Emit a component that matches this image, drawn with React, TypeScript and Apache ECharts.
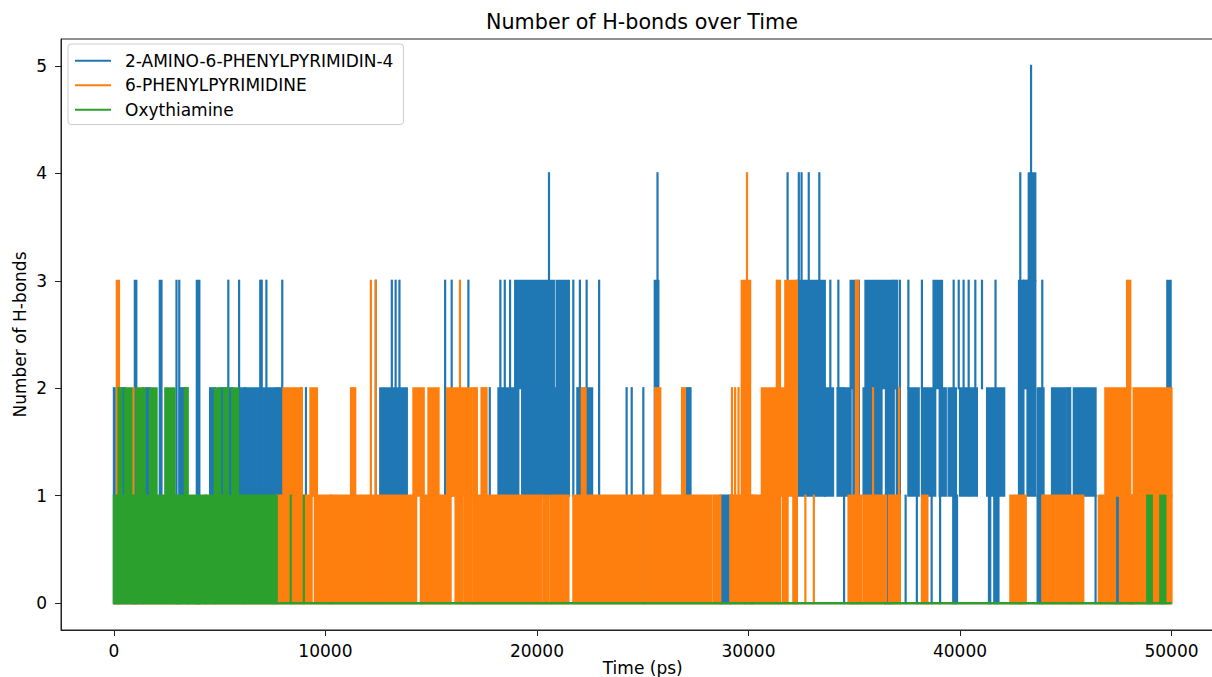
import React, { useEffect, useRef } from 'react';
import * as echarts from 'echarts';

const seriesNames = ['2-AMINO-6-PHENYLPYRIMIDIN-4', '6-PHENYLPYRIMIDINE', 'Oxythiamine'];
const timeSpan = [0, 50000];
const xTicks = [0, 10000, 20000, 30000, 40000, 50000];
const yTicks = [0, 1, 2, 3, 4, 5];

// Each entry: [time start (ps), time end (ps), low H-bond count, high H-bond count]
// marking where the trace sweeps between two levels (dense flicker or single spikes).
const aminoBands = [
  [0, 40, 0, 2], [360, 530, 1, 2], [990, 1060, 0, 3], [1510, 1700, 1, 2], [2170, 2250, 1, 3],
  [2960, 2960, 0, 3], [3090, 3090, 0, 3], [3130, 3350, 1, 2], [3480, 3480, 0, 2], [3920, 4040, 0, 3],
  [4550, 4770, 1, 2], [5020, 5210, 1, 2], [5320, 5600, 1, 2], [5410, 5410, 1, 3], [5920, 5920, 1, 3],
  [5960, 7600, 1, 2], [6200, 6200, 0, 2], [6920, 6920, 1, 3], [6990, 6990, 1, 3], [7210, 7210, 1, 3],
  [7670, 7920, 1, 2], [7960, 7960, 1, 3], [8840, 8840, 1, 2], [9080, 9080, 1, 2], [10260, 10260, 0, 1],
  [12380, 12380, 1, 3], [12590, 13850, 1, 2], [13140, 13140, 2, 3], [13320, 13320, 2, 3], [13500, 13500, 2, 3],
  [15660, 15660, 1, 3], [15970, 15970, 1, 3], [16760, 16760, 1, 3], [17770, 17770, 1, 2], [18180, 19120, 1, 2],
  [18270, 18270, 2, 3], [18480, 18480, 2, 3], [18730, 18730, 2, 3], [18970, 20800, 2, 3], [19300, 21510, 1, 2],
  [20570, 20570, 3, 4], [20930, 21510, 2, 3], [21720, 21720, 1, 3], [21910, 22050, 1, 2], [22030, 22030, 2, 3],
  [22260, 22610, 1, 2], [22350, 22350, 2, 3], [22940, 22940, 1, 3], [24240, 24240, 1, 2], [24480, 24480, 1, 2],
  [25030, 25030, 0, 2], [25570, 25740, 1, 3], [25700, 25700, 3, 4], [27080, 27260, 1, 2], [28670, 29130, 0, 1],
  [29860, 29860, 0, 1], [30170, 30170, 0, 1], [31850, 31850, 1, 4], [32290, 32630, 1, 3], [32700, 33610, 1, 3],
  [32380, 32380, 3, 4], [32510, 32510, 3, 4], [32850, 32850, 3, 4], [33350, 33350, 3, 4], [33610, 34000, 1, 2],
  [33870, 33870, 2, 3], [34210, 34420, 1, 2], [34250, 34250, 2, 3], [34520, 34520, 0, 2], [34550, 34830, 1, 2],
  [34830, 35220, 2, 3], [34900, 34900, 0, 1], [34960, 35220, 1, 2], [35440, 36290, 1, 2], [35530, 35890, 2, 3],
  [35980, 36780, 2, 3], [36460, 36770, 0, 1], [36500, 36870, 1, 2], [36850, 37030, 2, 3], [37010, 37160, 1, 2],
  [37160, 37160, 2, 3], [37430, 37430, 0, 1], [37560, 38050, 1, 2], [37560, 37560, 2, 3], [37960, 37960, 0, 1],
  [38200, 38830, 1, 2], [38200, 38200, 2, 3], [38660, 38660, 0, 1], [38750, 39150, 2, 3], [39040, 39330, 1, 2],
  [39060, 39060, 0, 1], [39460, 39810, 1, 2], [39680, 39860, 0, 1], [39700, 39700, 2, 3], [39940, 39940, 2, 3],
  [40000, 40420, 1, 2], [40170, 40170, 2, 3], [40410, 40410, 2, 3], [40490, 40800, 1, 2], [40725, 40725, 2, 3],
  [41040, 41040, 2, 3], [41280, 42090, 1, 2], [41680, 41680, 2, 3], [41370, 41430, 0, 1], [41620, 41820, 0, 1],
  [42790, 43000, 1, 3], [43000, 43190, 2, 3], [43190, 43560, 1, 3], [42850, 42850, 3, 4], [43250, 43560, 3, 4],
  [43360, 43360, 4, 5], [42790, 42850, 0, 1], [43670, 43950, 1, 2], [43670, 43860, 0, 1], [43890, 43890, 1, 3],
  [44350, 44990, 1, 2], [45070, 45210, 1, 2], [45380, 45920, 1, 2], [46010, 46410, 1, 2], [45180, 45180, 0, 1],
  [46410, 46410, 0, 1], [47330, 47560, 0, 1], [48050, 48140, 0, 1], [49800, 49960, 1, 3],
];

const phenylBands = [
  [140, 240, 0, 3], [930, 930, 0, 2], [1370, 1370, 0, 2], [4350, 4350, 0, 1], [4770, 4770, 0, 1],
  [7700, 9350, 0, 1], [9500, 14290, 0, 1], [8010, 8560, 1, 2], [8630, 8890, 1, 2], [9290, 9600, 1, 2],
  [11210, 11410, 1, 2], [12150, 12150, 0, 3], [12380, 12380, 0, 3], [14160, 14650, 1, 2], [14510, 15920, 0, 1],
  [14870, 15350, 1, 2], [15750, 16910, 1, 2], [16150, 16270, 0, 1], [16360, 16490, 0, 1], [16360, 16360, 1, 3],
  [16580, 16910, 0, 1], [16990, 20220, 0, 1], [16990, 17160, 1, 2], [17380, 17620, 1, 2], [20310, 20520, 0, 1],
  [20630, 21490, 0, 1], [21720, 24930, 0, 1], [22120, 22300, 1, 2], [25030, 28230, 0, 1], [25590, 25830, 1, 2],
  [26860, 26990, 1, 2], [28340, 28670, 0, 1], [29140, 29830, 0, 1], [29220, 29220, 1, 2], [29370, 29370, 1, 2],
  [29530, 29530, 1, 2], [29680, 30080, 1, 3], [29930, 29930, 3, 4], [29900, 30140, 0, 1], [30210, 31490, 0, 1],
  [30630, 32290, 1, 2], [31340, 31490, 2, 3], [31620, 31850, 0, 1], [31740, 32290, 2, 3], [32120, 32290, 0, 1],
  [32690, 32690, 0, 1], [33090, 33090, 0, 1], [34730, 35320, 0, 1], [35080, 35190, 0, 3], [35430, 36500, 0, 1],
  [35890, 35890, 1, 2], [36640, 37160, 0, 1], [37120, 37120, 1, 2], [38200, 38460, 0, 1],
  [42380, 43110, 0, 1], [43890, 45210, 0, 1], [45300, 45830, 0, 1], [46560, 47330, 0, 1], [47560, 48050, 0, 1],
  [48140, 50000, 0, 1], [46870, 48050, 1, 2], [47900, 48050, 2, 3], [48210, 50000, 1, 2],
];

const oxyBands = [
  [0, 3410, 0, 1], [3500, 4320, 0, 1], [4380, 4740, 0, 1], [4800, 7700, 0, 1],
  [220, 360, 1, 2], [530, 840, 1, 2], [1060, 1460, 1, 2], [1700, 2020, 1, 2], [2430, 2870, 1, 2],
  [3350, 3480, 1, 2], [4770, 5020, 1, 2], [5210, 5390, 1, 2], [5600, 5870, 1, 2],
  [8360, 8360, 0, 1], [8980, 8980, 0, 1], [48850, 49070, 0, 1], [49470, 49710, 0, 1],
];

const colors = ['#1f77b4', '#ff7f0e', '#2ca02c'];
const bandSets = [aminoBands, phenylBands, oxyBands];
const FONT = 'DejaVu Sans';
const LW = 2.2;

function bandRenderer(color: string) {
  return (_params: any, api: any) => {
    const p0 = api.coord([api.value(0), api.value(3)]);
    const p1 = api.coord([api.value(1), api.value(2)]);
    return {
      type: 'rect',
      shape: {
        x: p0[0] - LW / 2,
        y: p0[1] - LW / 2,
        width: p1[0] - p0[0] + LW,
        height: p1[1] - p0[1] + LW,
      },
      style: { fill: color },
    };
  };
}

export default function App() {
  const ref = useRef<HTMLDivElement>(null);
  useEffect(() => {
    if (!ref.current) return;
    const chart = echarts.init(ref.current, null, { renderer: 'svg' });
    const series: any[] = [];
    seriesNames.forEach((name, i) => {
      series.push({
        type: 'line',
        name,
        data: timeSpan.map((t) => [t, 0]),
        showSymbol: false,
        silent: true,
        lineStyle: { color: colors[i], width: LW },
        itemStyle: { color: colors[i] },
      });
      series.push({
        type: 'custom',
        name,
        data: bandSets[i],
        renderItem: bandRenderer(colors[i]),
        encode: { x: [0, 1], y: [2, 3] },
        silent: true,
        itemStyle: { color: colors[i] },
      });
    });
    const axisCommon = {
      type: 'value',
      axisLine: { show: true, onZero: false, lineStyle: { color: '#222', width: 1 } },
      splitLine: { show: false },
      nameLocation: 'middle',
      nameMoveOverlap: false,
      nameTextStyle: { fontSize: 17, fontFamily: FONT, color: '#000' },
    };
    chart.setOption({
      animation: false,
      backgroundColor: '#fff',
      grid: {
        left: 61, top: 39, width: 1163.4, height: 591,
        outerBoundsMode: 'none', containLabel: false,
        show: true, borderColor: '#222', borderWidth: 1, backgroundColor: 'transparent',
      },
      graphic: [
        {
          type: 'text',
          x: 642,
          y: 22,
          style: {
            text: 'Number of H-bonds over Time',
            fontSize: 20.7,
            fontFamily: FONT,
            fill: '#000',
            align: 'center',
            verticalAlign: 'middle',
            textAlign: 'center',
            textVerticalAlign: 'middle',
          },
        },
      ],
      legend: {
        data: seriesNames.map((n) => ({ name: n, icon: 'rect' })),
        orient: 'vertical',
        left: 68,
        top: 44,
        padding: [7, 10, 5, 7],
        itemWidth: 36,
        itemHeight: 2,
        itemGap: 5,
        selectedMode: false,
        textStyle: { fontSize: 17, fontFamily: FONT, color: '#000', padding: [0, 0, 0, 9], lineHeight: 19.5 },
        backgroundColor: 'rgba(255,255,255,0.8)',
        borderColor: '#ccc',
        borderWidth: 1,
        borderRadius: 3,
      },
      xAxis: {
        ...axisCommon,
        min: -2500,
        max: 52500,
        name: 'Time (ps)',
        nameGap: 29,
        axisTick: { show: true, customValues: xTicks, length: 6, lineStyle: { color: '#222' } },
        axisLabel: { customValues: xTicks, margin: 12, fontSize: 17, fontFamily: FONT, color: '#000', formatter: (v: number) => String(v) },
      },
      yAxis: {
        ...axisCommon,
        min: -0.25,
        max: 5.25,
        name: 'Number of H-bonds',
        nameGap: 33,
        axisTick: { show: true, customValues: yTicks, length: 6, lineStyle: { color: '#222' } },
        axisLabel: { customValues: yTicks, margin: 14, fontSize: 17, fontFamily: FONT, color: '#000', formatter: (v: number) => String(v) },
      },
      series,
    });
    return () => chart.dispose();
  }, []);
  return <div ref={ref} style={{ position: 'fixed', left: 0, top: 0, width: 1212, height: 677 }} />;
}
